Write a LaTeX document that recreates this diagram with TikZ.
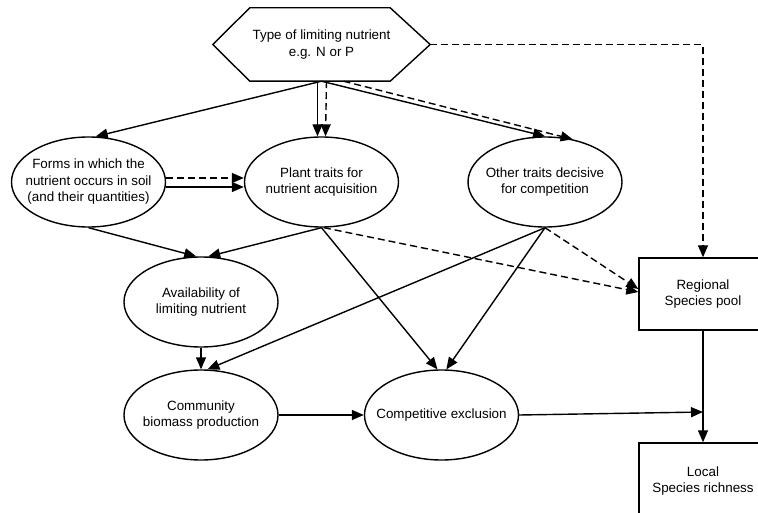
\documentclass[tikz,border=0pt]{standalone}
\usepackage{fontspec}
\setmainfont{Liberation Sans}
\usetikzlibrary{arrows.meta,shapes.geometric}
\begin{document}
\begin{tikzpicture}[x=1pt,y=-1pt,
  every node/.style={font=\fontsize{13.4}{16.5}\selectfont, align=center, inner sep=0pt},
  ell/.style={draw, line width=1.4pt, ellipse, minimum width=154pt, minimum height=90pt},
  box/.style={draw, line width=1.4pt, rectangle, minimum width=128pt},
  conn/.style={line width=1.4pt, -{Triangle[length=12pt,width=10pt]}},
  dconn/.style={conn, dash pattern=on 7pt off 4pt}]
\useasboundingbox (0,0) rectangle (758,513);
\clip (0,0) rectangle (758,513);
\fill[white] (0,0) rectangle (758,513);
% nodes
\node (hex) at (321.5,44.5) [minimum width=217pt, minimum height=73pt] {Type of limiting nutrient\\e.g. N or P};
\draw[line width=1.4pt, line join=miter] (hex.west) -- ([xshift=37pt]hex.north west) -- ([xshift=-40pt]hex.north east) -- (hex.east) -- ([xshift=-40pt]hex.south east) -- ([xshift=37pt]hex.south west) -- cycle;
\node[ell, label={center:Forms in which the\\nutrient occurs in soil\\(and their quantities)}] (forms) at (88.5,182) {};
\node[ell, label={center:Plant traits for\\nutrient acquisition}] (plant) at (321.5,182) {};
\node[ell, label={center:Other traits decisive\\for competition}] (other) at (545,182) {};
\node[ell, label={center:Availability of\\limiting nutrient}] (avail) at (201,302) {};
\node[ell, minimum height=90pt, label={center:Community\\biomass production}] (comm) at (201,415) {};
\node[ell, minimum height=90pt, label={center:Competitive exclusion}] (compet) at (441.5,415) {};
\node[box, minimum height=72pt] (regional) at (703,294) {Regional\\Species pool};
\node[box, minimum height=76pt] (local) at (703,481) {Local\\Species richness};
\coordinate (j) at (703,412);
% connectors
\draw[conn] (hex.south) -- (forms.81);
\draw[conn] ([xshift=-4pt]hex.south) -- ([xshift=-4pt]plant.north);
\draw[dconn] ([xshift=5pt]hex.south) -- ([xshift=4pt]plant.north);
\draw[conn] (hex.south) -- (other.north);
\draw[dconn] ([xshift=22pt]hex.south) -- (other.57);
\draw[dconn] (hex.east) -| (regional.north);
\draw[dconn] ([yshift=4pt]forms.east) -- ([yshift=4pt]plant.west);
\draw[conn] ([yshift=-5pt]forms.east) -- ([yshift=-5pt]plant.west);
\draw[conn] (forms.south) -- (avail.96);
\draw[conn] (plant.south) -- (avail.81);
\draw[conn] (plant.south) -- (compet.95);
\draw[dconn] (plant.-87) -- ([yshift=2pt]regional.west);
\draw[conn] (other.south) -- (comm.82);
\draw[conn] (other.south) -- (compet.84);
\draw[dconn] (other.south) -- ([yshift=5pt]regional.west);
\draw[conn] (avail.south) -- (comm.north);
\draw[conn] (comm.east) -- (compet.west);
\draw[conn] (compet.east) -- (j);
\draw[conn] (regional.south) -- (local.north);
\end{tikzpicture}
\end{document}
